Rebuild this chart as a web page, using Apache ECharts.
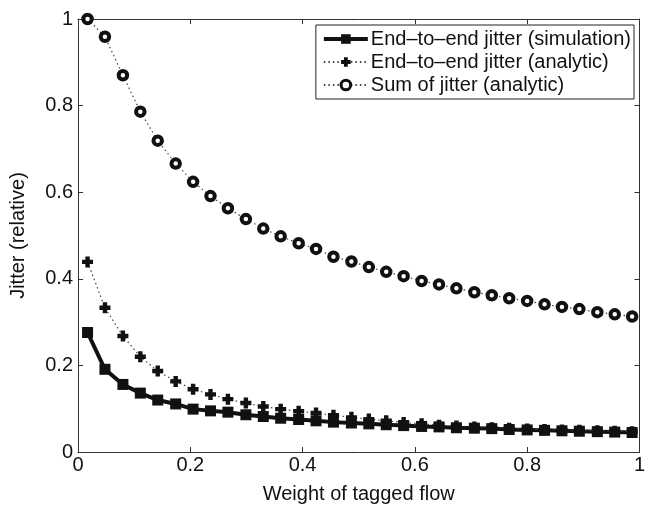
<!DOCTYPE html>
<html>
<head>
<meta charset="utf-8">
<script src="https://cdn.jsdelivr.net/npm/echarts@6/dist/echarts.min.js"></script>
<style>
html,body{margin:0;padding:0;background:#fff;}
#chart{width:648px;height:509px;}
</style>
</head>
<body>
<div id="chart"></div>
<script>
const weights = [0.017, 0.048, 0.080, 0.111, 0.142, 0.174, 0.205, 0.236, 0.267, 0.299, 0.330, 0.361, 0.393, 0.424, 0.455, 0.487, 0.518, 0.549, 0.580, 0.612, 0.643, 0.674, 0.706, 0.737, 0.768, 0.800, 0.831, 0.862, 0.893, 0.925, 0.956, 0.987];
const simulation = [0.276, 0.191, 0.156, 0.136, 0.120, 0.111, 0.099, 0.095, 0.092, 0.086, 0.082, 0.078, 0.075, 0.072, 0.069, 0.067, 0.065, 0.063, 0.061, 0.059, 0.058, 0.056, 0.055, 0.054, 0.052, 0.051, 0.050, 0.049, 0.048, 0.047, 0.046, 0.045];
const analytic = [0.439, 0.333, 0.268, 0.220, 0.187, 0.163, 0.145, 0.133, 0.122, 0.113, 0.105, 0.099, 0.094, 0.090, 0.085, 0.080, 0.076, 0.072, 0.068, 0.065, 0.062, 0.060, 0.058, 0.056, 0.055, 0.053, 0.052, 0.051, 0.050, 0.049, 0.048, 0.047, 0.046];
const sumJitter = [1.000, 0.959, 0.870, 0.786, 0.719, 0.666, 0.624, 0.591, 0.563, 0.538, 0.516, 0.498, 0.482, 0.469, 0.451, 0.440, 0.427, 0.416, 0.406, 0.395, 0.387, 0.378, 0.369, 0.362, 0.355, 0.349, 0.341, 0.335, 0.330, 0.323, 0.318, 0.313];
const seriesNames = ['End\u2013to\u2013end jitter (simulation)', 'End\u2013to\u2013end jitter (analytic)', 'Sum of jitter (analytic)'];
const tickValues = [0, 0.2, 0.4, 0.6, 0.8, 1];
const xTitle = 'Weight of tagged flow';
const yTitle = 'Jitter (relative)';

const pair = (ys) => weights.map((x, i) => [x, ys[i]]);
const FONT = 'Liberation Sans';
const axisColor = '#333';
const fmt = v => (tickValues.indexOf(+v.toFixed(1)) >= 0 ? String(+v.toFixed(1)) : '');

const chart = echarts.init(document.getElementById('chart'));
const plusPath = 'path://M3,0h4v3h3v4h-3v3h-4v-3h-3v-4h3z';

chart.setOption({
  animation: false,
  backgroundColor: '#fff',
  textStyle: { fontFamily: FONT },
  grid: { left: 77, right: 7, top: 19, bottom: 54, containLabel: false },
  legend: {
    data: [
      { name: seriesNames[0], lineStyle: { width: 4, color: '#111' } },
      { name: seriesNames[1] },
      { name: seriesNames[2], itemStyle: { color: '#fff', borderColor: '#111', borderWidth: 3 } }
    ],
    right: 14,
    top: 25,
    orient: 'vertical',
    align: 'left',
    backgroundColor: '#fff',
    borderColor: '#222',
    borderWidth: 1,
    padding: [4, 3, 4, 6],
    itemGap: 3,
    itemWidth: 44,
    itemHeight: 12,
    textStyle: { fontFamily: FONT, fontSize: 20, color: '#111', padding: [0, 0, 0, -2] }
  },
  xAxis: [{
    type: 'value', min: 0, max: 1, interval: 0.2,
    name: xTitle, nameLocation: 'middle', nameGap: 32,
    nameTextStyle: { fontFamily: FONT, fontSize: 20, color: '#111' },
    axisLine: { show: true, onZero: false, lineStyle: { color: axisColor, width: 1 } },
    axisTick: { show: true, inside: true, length: 5, lineStyle: { color: axisColor } },
    axisLabel: { fontFamily: FONT, fontSize: 20, color: '#111', margin: 3, formatter: fmt },
    splitLine: { show: false }
  }, {
    type: 'value', min: 0, max: 1, interval: 0.2, position: 'top',
    axisLine: { show: true, onZero: false, lineStyle: { color: axisColor, width: 1 } },
    axisTick: { show: true, inside: true, length: 5, lineStyle: { color: axisColor } },
    axisLabel: { show: false }, splitLine: { show: false }
  }],
  yAxis: [{
    type: 'value', min: 0, max: 1, interval: 0.2,
    name: yTitle, nameLocation: 'middle', nameGap: 50,
    nameTextStyle: { fontFamily: FONT, fontSize: 20, color: '#111' },
    axisLine: { show: true, onZero: false, lineStyle: { color: axisColor, width: 1 } },
    axisTick: { show: true, inside: true, length: 5, lineStyle: { color: axisColor } },
    axisLabel: { fontFamily: FONT, fontSize: 20, color: '#111', margin: 5, formatter: fmt },
    splitLine: { show: false }
  }, {
    type: 'value', min: 0, max: 1, interval: 0.2, position: 'right',
    axisLine: { show: true, onZero: false, lineStyle: { color: axisColor, width: 1 } },
    axisTick: { show: true, inside: true, length: 5, lineStyle: { color: axisColor } },
    axisLabel: { show: false }, splitLine: { show: false }
  }],
  series: [{
    name: seriesNames[0], type: 'line', data: pair(simulation),
    symbol: 'rect', symbolSize: 11,
    lineStyle: { color: '#111', width: 4 },
    itemStyle: { color: '#111' }
  }, {
    name: seriesNames[1], type: 'line', data: pair(analytic),
    symbol: plusPath, symbolSize: 11,
    lineStyle: { color: '#444', width: 1.2, type: [1.5, 3] },
    itemStyle: { color: '#111' }
  }, {
    name: seriesNames[2], type: 'line', data: pair(sumJitter),
    symbol: 'circle', symbolSize: 8.5,
    lineStyle: { color: '#444', width: 1.2, type: [1.5, 3] },
    itemStyle: { color: '#fff', borderColor: '#111', borderWidth: 4 }
  }]
});
</script>
</body>
</html>
